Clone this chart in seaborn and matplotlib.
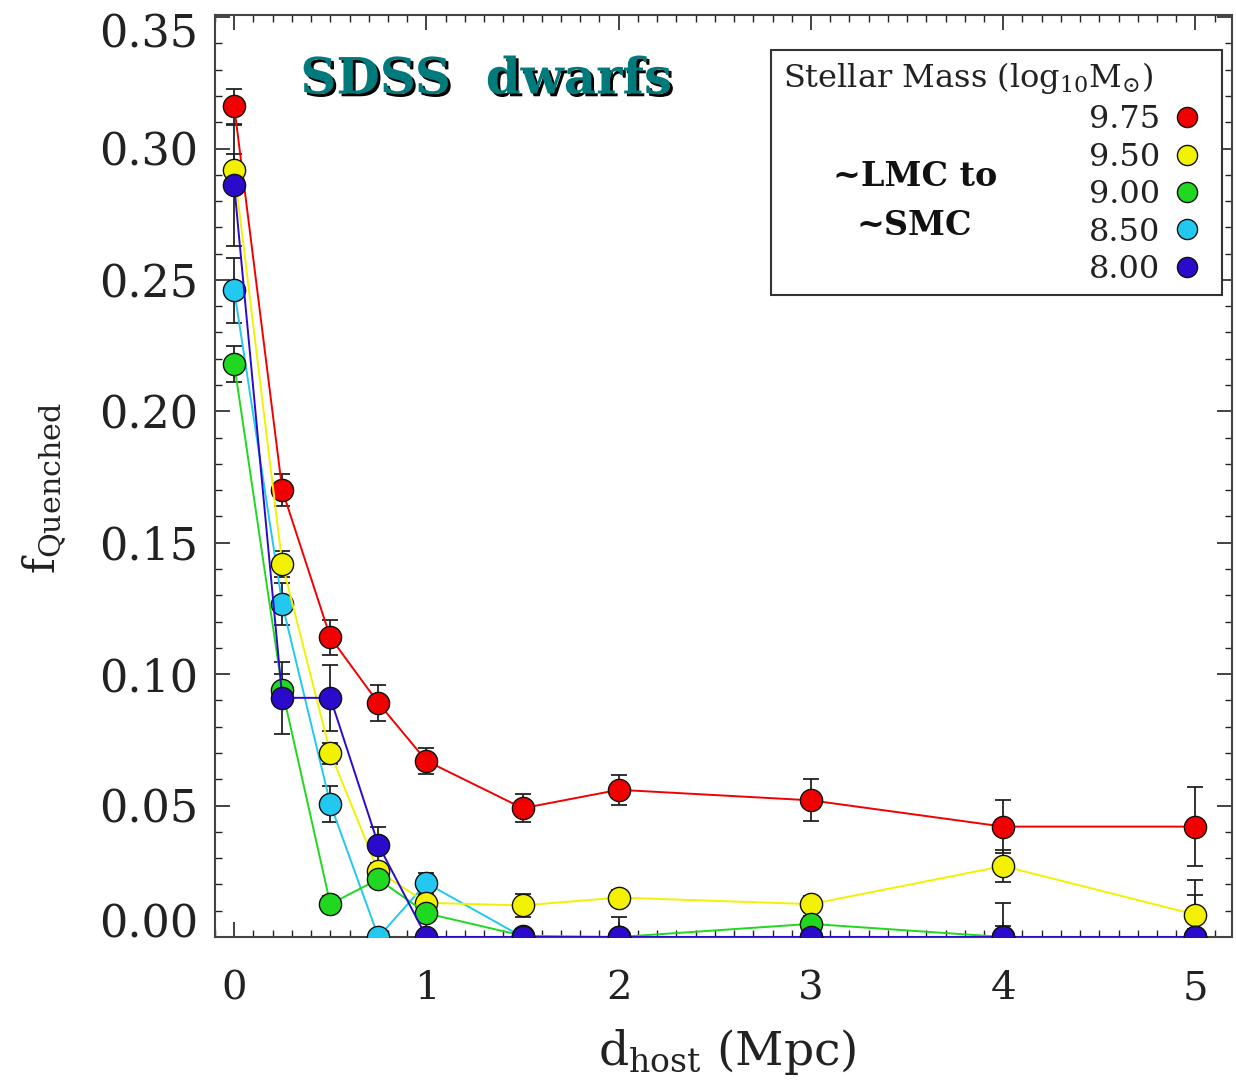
import numpy as np
import pandas as pd
import matplotlib
matplotlib.use("Agg")
import matplotlib.pyplot as plt
import matplotlib.transforms as mtransforms
import matplotlib.patheffects as pe
from matplotlib.lines import Line2D
from matplotlib.patches import Rectangle
from matplotlib.ticker import MultipleLocator, FormatStrFormatter
import seaborn as sns

# ---------------- data ----------------
d_host = [0, 0.25, 0.5, 0.75, 1, 1.5, 2, 3, 4, 5]

masses = ["9.75", "9.50", "9.00", "8.50", "8.00"]

f_975 = [0.316, 0.170, 0.114, 0.089, 0.067, 0.049, 0.056, 0.052, 0.042, 0.042]
e_975 = [0.0065, 0.006, 0.0067, 0.0068, 0.005, 0.0053, 0.0057, 0.008, 0.010, 0.015]

f_950 = [0.292, 0.142, 0.070, 0.025, 0.013, 0.012, 0.015, 0.0125, 0.027, 0.0085]
e_950 = [0.006, 0.005, 0.004, 0.003, 0.003, 0.0045, 0.003, 0.003, 0.006, 0.013]

f_900 = [0.218, 0.094, 0.0125, 0.022, 0.009, 0.0005, 0.0, 0.005, 0.0, 0.0]
e_900 = [0.007, 0.006, 0.003, 0.003, 0.003, 0.002, 0.001, 0.003, 0.004, 0.003]

f_850 = [0.246, 0.1266, 0.0506, 0.0, 0.0205, 0.0, 0.0, 0.0, 0.0, 0.0]
e_850 = [0.0125, 0.008, 0.0067, 0.0, 0.004, 0.0, 0.0, 0.0, 0.0, 0.0]

f_800 = [0.286, 0.091, 0.091, 0.035, 0.0, 0.0, 0.0, 0.0, 0.0, 0.0]
e_800 = [0.023, 0.0137, 0.0125, 0.007, 0.0, 0.0, 0.0076, 0.003, 0.013, 0.016]

colors = {"9.75": "#f20000", "9.50": "#f2f200", "9.00": "#1fd81f",
          "8.50": "#22c8f0", "8.00": "#2a0acb"}

series = {"9.75": (f_975, e_975), "9.50": (f_950, e_950), "9.00": (f_900, e_900),
          "8.50": (f_850, e_850), "8.00": (f_800, e_800)}

rows = []
for m in masses:
    f, e = series[m]
    for x, y, err in zip(d_host, f, e):
        rows.append({"d_host": x, "fq": y, "err": err, "mass": m})
df = pd.DataFrame(rows)

# ---------------- style ----------------
sns.set_theme(style="ticks")
plt.rcParams["font.family"] = ["DejaVu Serif"]
plt.rcParams["mathtext.fontset"] = "dejavuserif"

fig = plt.figure(figsize=(12.36, 10.85), dpi=100)
ax = fig.add_axes([215 / 1236, 1 - 937 / 1085, (1232 - 215) / 1236, (937 - 15) / 1085])

# error bars (under markers)
for m in masses:
    sub = df[df["mass"] == m]
    ax.errorbar(sub["d_host"], sub["fq"], yerr=sub["err"], fmt="none",
                ecolor="#222222", elinewidth=1.3, capsize=6, capthick=1.3, zorder=1.5)

draw_order = ["8.50", "9.75", "9.50", "9.00", "8.00"]
for m in draw_order:
    sub = df[df["mass"] == m]
    sns.lineplot(data=sub, x="d_host", y="fq", color=colors[m], sort=False,
                 linewidth=1.4, marker="o", markersize=16, markeredgecolor="#111111",
                 markeredgewidth=1.0, legend=False, ax=ax, zorder=3)

ax.set_xlim(-0.1, 5.19)
ax.set_ylim(0, 0.3508)

ax.xaxis.set_major_locator(MultipleLocator(1))
ax.xaxis.set_minor_locator(MultipleLocator(0.1))
ax.yaxis.set_major_locator(MultipleLocator(0.05))
ax.yaxis.set_minor_locator(MultipleLocator(0.01))
ax.yaxis.set_major_formatter(FormatStrFormatter("%.2f"))

ax.tick_params(which="both", direction="in", top=True, right=True, colors="#222222")
ax.tick_params(which="major", length=11, width=1.2)
ax.tick_params(which="minor", length=5, width=1.0)
ax.tick_params(axis="x", which="major", labelsize=29, pad=24, labelcolor="#222222")
ax.tick_params(axis="y", which="major", labelsize=32, pad=12, labelcolor="#222222")
for s in ax.spines.values():
    s.set_linewidth(1.5)
    s.set_color("#444444")

# shift extreme y tick labels inward
fig.canvas.draw()
ylabels = ax.get_yticklabels()
for lab in ylabels:
    txt = lab.get_text()
    if txt == "0.00":
        lab.set_transform(lab.get_transform() + mtransforms.ScaledTranslation(0, 0.17, fig.dpi_scale_trans))
    elif txt == "0.35":
        lab.set_transform(lab.get_transform() + mtransforms.ScaledTranslation(0, -0.13, fig.dpi_scale_trans))

ax.set_xlabel(r"d$_{\mathregular{host}}$ (Mpc)", fontsize=34, color="#222222")
ax.xaxis.set_label_coords(0.504, -0.098)
ax.xaxis.label.set_va("top")
ax.set_ylabel(r"f$_{\mathregular{Quenched}}$", fontsize=31, color="#222222")
ax.yaxis.set_label_coords(-0.167, 0.487)
ax.yaxis.label.set_va("center")

# title text with shadow
ax.text(0.2665, 0.9295, "SDSS  dwarfs", transform=ax.transAxes, ha="center", va="center",
        fontsize=36, fontweight="bold", color="#007a7a",
        path_effects=[pe.withSimplePatchShadow(offset=(2, -2), shadow_rgbFace="black", alpha=1.0)])

# legend box
ax.add_patch(Rectangle((0.5467, 0.6963), 0.9902 - 0.5467, 0.962 - 0.6963, transform=ax.transAxes,
                       fill=True, facecolor="white", edgecolor="#333333", linewidth=1.5, zorder=5))
ax.text(0.5585, 0.9317, r"Stellar Mass (log$_{\mathregular{10}}$M$_{\odot}$)", transform=ax.transAxes,
        ha="left", va="center", fontsize=23, color="#222222", zorder=6)
ax.text(0.688, 0.8243, "~LMC to", transform=ax.transAxes, ha="center", va="center",
        fontsize=24, fontweight="bold", color="#111111", zorder=6)
ax.text(0.688, 0.772, "~SMC", transform=ax.transAxes, ha="center", va="center",
        fontsize=24, fontweight="bold", color="#111111", zorder=6)

handles = [Line2D([], [], linestyle="none", marker="o", markersize=14.5,
                  markerfacecolor=colors[m], markeredgecolor="#111111", markeredgewidth=1.0)
           for m in masses]
leg = ax.legend(handles, masses, loc="upper right", bbox_to_anchor=(0.9685, 0.903),
                frameon=False, markerfirst=False, fontsize=23, labelspacing=0.2,
                handlelength=0.8, handletextpad=0.45, borderpad=0.0, borderaxespad=0.0)
leg.set_zorder(7)
for t in leg.get_texts():
    t.set_color("#222222")

fig.savefig("out.png", dpi=100)
